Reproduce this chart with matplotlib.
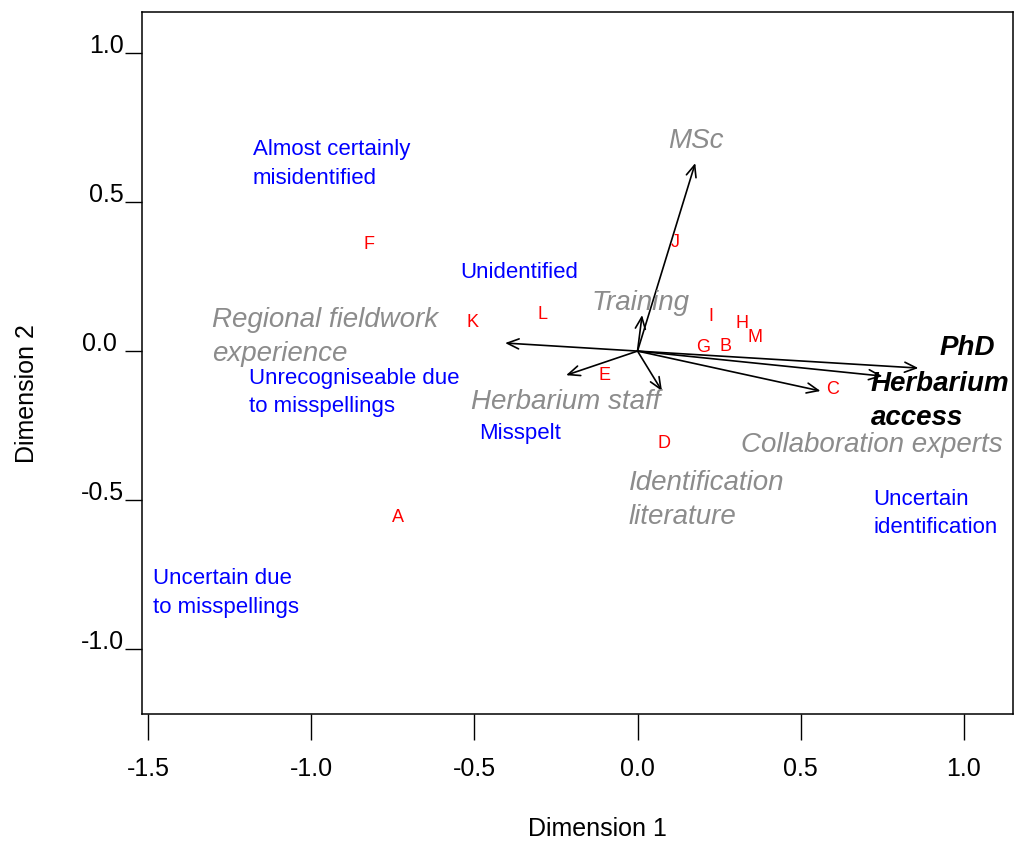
import matplotlib
matplotlib.use("Agg")
import matplotlib.pyplot as plt

plt.rcParams["font.family"] = ["Liberation Sans", "DejaVu Sans"]

# site scores (red letters)
site_labels = ["A", "B", "C", "D", "E", "F", "G", "H", "I", "J", "K", "L", "M"]
site_x = [-0.733, 0.270, 0.597, 0.080, -0.100, -0.822, 0.200, 0.319, 0.224, 0.117, -0.507, -0.290, 0.359]
site_y = [-0.557, 0.017, -0.128, -0.309, -0.081, 0.359, 0.013, 0.091, 0.117, 0.366, 0.097, 0.124, 0.044]

# identification categories (blue)
cat_labels = ["Almost certainly\nmisidentified", "Unidentified", "Unrecogniseable due\nto misspellings",
              "Misspelt", "Uncertain\nidentification", "Uncertain due\nto misspellings"]
cat_x = [-1.180, -0.544, -1.191, -0.485, 0.723, -1.485]
cat_y = [0.628, 0.265, -0.138, -0.275, -0.544, -0.812]

# explanatory variable vectors
var_x = [0.177, 0.014, -0.406, -0.219, 0.075, 0.561, 0.751, 0.861]
var_y = [0.631, 0.121, 0.027, -0.081, -0.134, -0.134, -0.084, -0.057]

# variable names, placed next to the arrow heads
var_labels = ["MSc", "Training", "Regional fieldwork\nexperience", "Herbarium staff",
              "Identification\nliterature", "Collaboration experts"]
var_lab_x = [0.093, -0.140, -1.304, -0.510, -0.027, 0.316]
var_lab_y = [0.705, 0.161, 0.047, -0.171, -0.500, -0.315]

# significant variables (bold)
sig_labels = ["PhD", "Herbarium\naccess"]
sig_lab_x = [0.927, 0.715]
sig_lab_y = [0.010, -0.168]

fig = plt.figure(figsize=(10.14, 8.43), dpi=100)
ax = fig.add_axes([142 / 1014, 1 - 714 / 843, 871 / 1014, 702 / 843])

for x, y in zip(var_x, var_y):
    ax.annotate("", xy=(x, y), xytext=(0, 0),
                arrowprops=dict(arrowstyle="->,head_length=0.7,head_width=0.3",
                                mutation_scale=12, lw=1.2, color="black",
                                shrinkA=0, shrinkB=0))

for lab, x, y in zip(site_labels, site_x, site_y):
    ax.text(x, y, lab, color="red", fontsize=13, ha="center", va="center")

for lab, x, y in zip(cat_labels, cat_x, cat_y):
    ax.text(x, y, lab, color="blue", fontsize=16, ha="left", va="center", linespacing=1.45)

for lab, x, y in zip(var_labels, var_lab_x, var_lab_y):
    ax.text(x, y, lab, color="#8c8c8c", fontsize=20, style="italic",
            ha="left", va="center", linespacing=1.4)

for lab, x, y in zip(sig_labels, sig_lab_x, sig_lab_y):
    ax.text(x, y, lab, color="black", fontsize=20, style="italic", weight="bold",
            ha="left", va="center", linespacing=1.4)

ax.set_xlim(-1.519, 1.151)
ax.set_ylim(-1.218, 1.138)

ax.set_xticks([-1.5, -1.0, -0.5, 0.0, 0.5, 1.0])
ax.set_xticklabels(["-1.5", "-1.0", "-0.5", "0.0", "0.5", "1.0"])
ax.set_yticks([-1.0, -0.5, 0.0, 0.5, 1.0])
ax.set_yticklabels(["-1.0", "-0.5", "0.0 ", "0.5", "1.0"])
ax.tick_params(axis="x", length=19, width=1, pad=12, labelsize=18)
ax.tick_params(axis="y", length=12, width=1, pad=1, labelsize=18)
for lab in ax.get_yticklabels():
    lab.set_verticalalignment("baseline")

for side in ax.spines.values():
    side.set_linewidth(1.1)

fig.text(597 / 1014, 1 - 829 / 843, "Dimension 1", fontsize=18, ha="center", va="center")
fig.text(27 / 1014, 1 - 394 / 843, "Dimension 2", fontsize=18, rotation=90,
         ha="center", va="center")

fig.savefig("out.png", dpi=100)
